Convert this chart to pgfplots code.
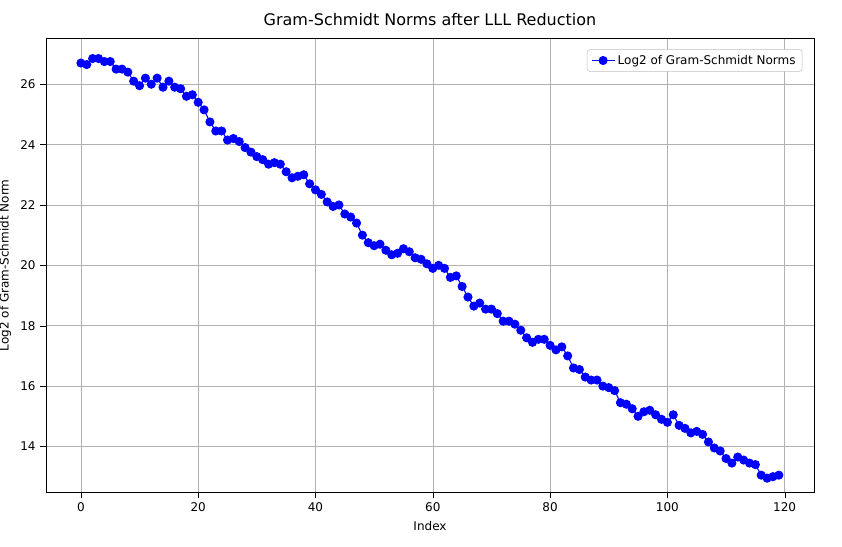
\documentclass[border=0pt]{standalone}
\usepackage{pgfplots}
\pgfplotsset{compat=1.18}
\usepackage{fontspec}
\setmainfont{DejaVu Sans}
\begin{document}
\begin{tikzpicture}
\path[use as bounding box] (-34.5pt,-40.5pt) rectangle (597pt,369.5pt);
\begin{axis}[scale only axis, width=576pt, height=341pt,
 xmin=-5.95, xmax=125, ymin=12.47, ymax=27.53,
 xtick={0,20,...,120}, ytick={14,16,...,26},
 xtick pos=bottom, ytick pos=left,
 grid=major, grid style={gray!60},
 tick align=outside, tick style={black},
 ticklabel style={font=\small},
 /pgf/number format/assume math mode=true,
 title={\large Gram-Schmidt Norms after LLL Reduction},
 xlabel={\small Index}, ylabel={\small Log2 of Gram-Schmidt Norm},
 legend style={at={(0.985,0.975)}, anchor=north east, font=\small, draw=gray!50, rounded corners=2pt},
]
\addplot[blue, thick, mark=*, mark size=3pt] coordinates {
(0,26.7)(1,26.65)(2,26.85)(3,26.85)(4,26.75)(5,26.75)(6,26.5)(7,26.5)(8,26.4)(9,26.1)
(10,25.95)(11,26.2)(12,26.0)(13,26.2)(14,25.9)(15,26.1)(16,25.9)(17,25.85)(18,25.6)(19,25.65)
(20,25.4)(21,25.15)(22,24.75)(23,24.45)(24,24.45)(25,24.15)(26,24.2)(27,24.1)(28,23.9)(29,23.75)
(30,23.6)(31,23.5)(32,23.35)(33,23.4)(34,23.35)(35,23.1)(36,22.9)(37,22.95)(38,23.0)(39,22.7)
(40,22.5)(41,22.35)(42,22.1)(43,21.95)(44,22.0)(45,21.7)(46,21.6)(47,21.4)(48,21.0)(49,20.75)
(50,20.65)(51,20.7)(52,20.5)(53,20.35)(54,20.4)(55,20.55)(56,20.45)(57,20.25)(58,20.2)(59,20.05)
(60,19.9)(61,20.0)(62,19.9)(63,19.6)(64,19.65)(65,19.3)(66,18.95)(67,18.65)(68,18.75)(69,18.55)
(70,18.55)(71,18.4)(72,18.15)(73,18.15)(74,18.05)(75,17.85)(76,17.6)(77,17.45)(78,17.55)(79,17.55)
(80,17.35)(81,17.2)(82,17.3)(83,17.0)(84,16.6)(85,16.55)(86,16.3)(87,16.2)(88,16.2)(89,16.0)
(90,15.95)(91,15.85)(92,15.45)(93,15.4)(94,15.25)(95,15.0)(96,15.15)(97,15.2)(98,15.05)(99,14.9)
(100,14.8)(101,15.05)(102,14.7)(103,14.6)(104,14.45)(105,14.5)(106,14.4)(107,14.15)(108,13.95)(109,13.85)
(110,13.6)(111,13.45)(112,13.65)(113,13.55)(114,13.45)(115,13.4)(116,13.05)(117,12.95)(118,13.0)(119,13.05)
};
\addlegendentry{Log2 of Gram-Schmidt Norms}
\end{axis}
\end{tikzpicture}
\end{document}
